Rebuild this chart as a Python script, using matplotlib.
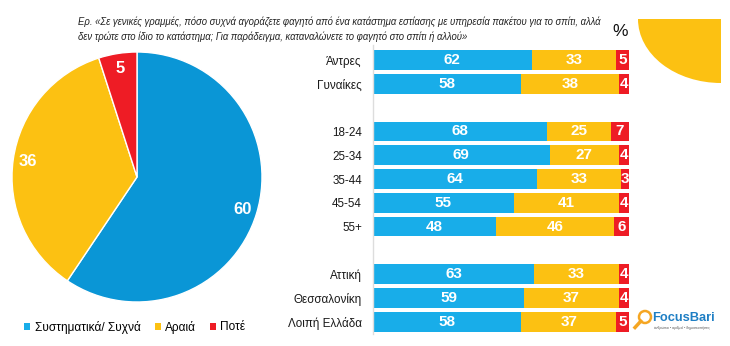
import matplotlib.pyplot as plt
from matplotlib.patches import Patch, Ellipse, Circle
from matplotlib.lines import Line2D

plt.rcParams['font.family'] = ['Liberation Sans', 'DejaVu Sans']

# answers
answers = ['Συστηματικά/ Συχνά', 'Αραιά', 'Ποτέ']
total = [60, 36, 5]

# breakdown rows (None = empty spacer row)
groups = ['Άντρες', 'Γυναίκες', None, '18-24', '25-34', '35-44', '45-54', '55+', None,
          'Αττική', 'Θεσσαλονίκη', 'Λοιπή Ελλάδα']
often = [62, 58, None, 68, 69, 64, 55, 48, None, 63, 59, 58]
rarely = [33, 38, None, 25, 27, 33, 41, 46, None, 33, 37, 37]
never = [5, 4, None, 7, 4, 3, 4, 6, None, 4, 4, 5]

question = ('Ερ. «Σε γενικές γραμμές, πόσο συχνά αγοράζετε φαγητό από ένα κατάστημα εστίασης με υπηρεσία πακέτου για το σπίτι, αλλά\n'
            'δεν τρώτε στο ίδιο το κατάστημα; Για παράδειγμα, καταναλώνετε το φαγητό στο σπίτι ή αλλού»')

blue_pie = '#0a96d6'
blue = '#18ade9'
yellow = '#fcc112'
red = '#ee1c25'

W, H = 730, 346
fig = plt.figure(figsize=(W / 100, H / 100), dpi=100)

# --- pie ---
cx, cy, r = 137, 177, 125
axp = fig.add_axes([(cx - r) / W, (H - cy - r) / H, 2 * r / W, 2 * r / H])
s = sum(total)
axp.pie(total, colors=[blue_pie, yellow, red], startangle=90, counterclock=False,
        autopct=lambda p: f'{p * s / 100:.0f}', pctdistance=0.88,
        wedgeprops=dict(edgecolor='white', linewidth=1),
        textprops=dict(color='white', fontsize=12, fontweight='bold'))
axp.set_xlim(-1, 1)
axp.set_ylim(-1, 1)

# --- stacked bars ---
step = 23.8
y0, n = 60, len(groups)
top = y0 - 0.62 * step
bot = y0 + (n - 1 + 0.5) * step
axb = fig.add_axes([373 / W, (H - bot) / H, 256 / W, (bot - top) / H])
pos = [i for i, g in enumerate(groups) if g is not None]
for i in pos:
    left = 0
    for v, c in zip([often[i], rarely[i], never[i]], [blue, yellow, red]):
        axb.barh(i, v, left=left, height=0.83, color=c, edgecolor='none')
        axb.text(left + v / 2, i, str(v), ha='center', va='center', color='white',
                 fontsize=11, fontweight='bold')
        left += v
axb.set_xlim(0, 100)
axb.set_ylim(n - 0.5, -0.62)
axb.set_yticks(pos, [groups[i] for i in pos], fontsize=8.4, color='#1a1a1a')
axb.tick_params(axis='y', length=0, pad=8)
axb.set_xticks([])
for sp in ['top', 'right', 'bottom']:
    axb.spines[sp].set_visible(False)
axb.spines['left'].set_color('#dddddd')
axb.spines['left'].set_linewidth(1)

# --- texts ---
fig.text(78 / W, 1 - 16 / H, question, ha='left', va='top', fontsize=6.85,
         style='italic', color='#222222', linespacing=1.55)
fig.text(620 / W, 1 - 31 / H, '%', ha='center', va='center', fontsize=12.5, color='#111111')

handles = [Patch(facecolor=c, edgecolor='none') for c in [blue, yellow, red]]
fig.legend(handles, answers, loc='center left', bbox_to_anchor=(16 / W, 1 - 327 / H),
           ncol=3, frameon=False, fontsize=8.6, handlelength=0.5, handleheight=0.5,
           handletextpad=0.35, columnspacing=1.2, borderpad=0.2)

# decorative quarter disc, top right
axo = fig.add_axes([0, 0, 1, 1], facecolor='none')
axo.set_xlim(0, W)
axo.set_ylim(H, 0)
axo.axis('off')
axo.add_patch(Ellipse((721, 19), 166, 128, facecolor=yellow, edgecolor='none'))
axo.add_patch(plt.Rectangle((721, 0), 20, 120, facecolor='white', edgecolor='none'))
axo.add_patch(plt.Rectangle((600, 0), 130, 19, facecolor='white', edgecolor='none'))

# logo
axo.add_patch(Circle((645, 317), 6, facecolor='none', edgecolor='#f5a623', linewidth=1.8))
axo.add_line(Line2D([640.8, 635], [321.2, 327.5], color='#f5a623', linewidth=2.5))
axo.text(652, 318, 'FocusBari', ha='left', va='center', fontsize=9.3, fontweight='bold',
         color='#1f7fc4')
axo.text(654, 328, 'άνθρωποι • αριθμοί • δημοσκοπήσεις', ha='left', va='center',
         fontsize=2.4, color='#555555')

fig.savefig('out.png', dpi=100)
